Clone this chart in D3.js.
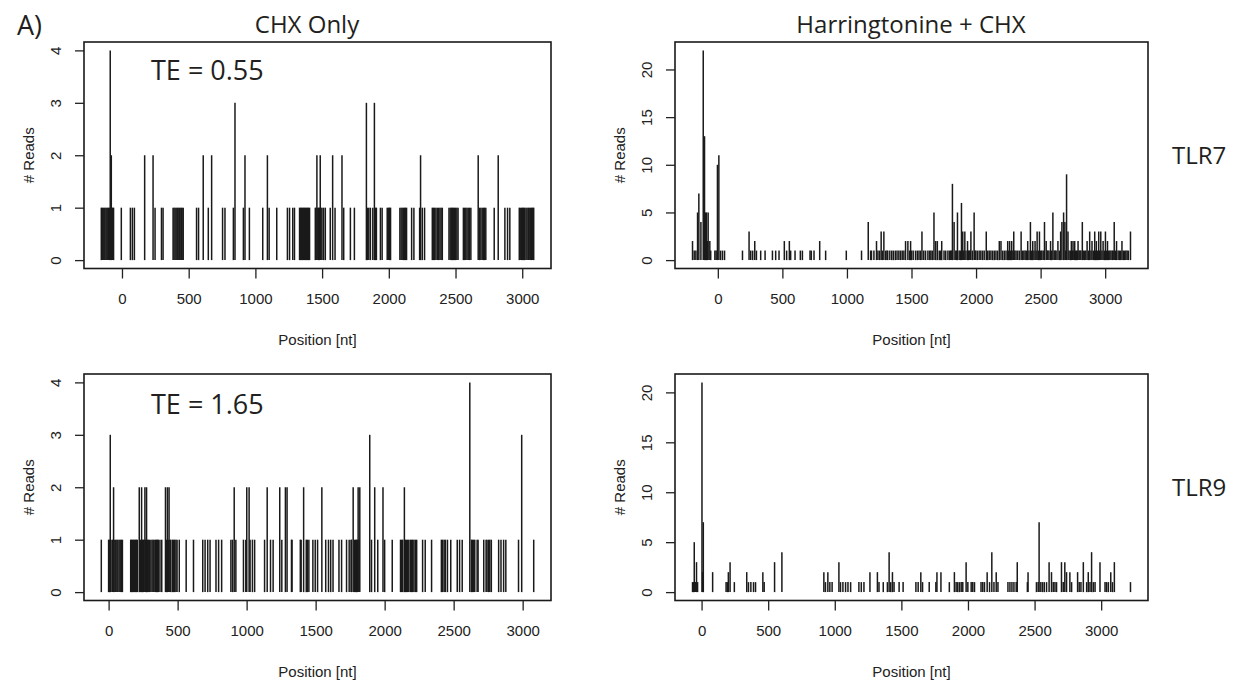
<!DOCTYPE html>
<html><head><meta charset="utf-8">
<script src="https://cdn.jsdelivr.net/npm/d3@7"></script>
<style>
  body { margin: 0; background: #fff; }
  svg { display: block; }
  .tick text { font-family: "Liberation Sans", Arial, sans-serif; font-size: 15px; fill: #222; }
  .tick line { stroke: #222; stroke-width: 1.3; }
</style>
</head><body>
<svg id="fig" width="1243" height="691"></svg>
<script>
// Footprint read counts as [position (nt), reads]

// TLR7, CHX only
const tlr7Chx = [
  [-155,1],[-148,1],[-141,1],[-134,1],[-128,1],[-120,1],[-113,1],[-106,1],[-99,1],[-93,1],
  [-88,4],[-80,2],[-73,1],[-68,1],[-63,1],[-5,1],[63,1],[78,1],[93,1],[170,2],
  [233,2],[248,1],[296,1],[308,1],[383,1],[390,1],[398,1],[406,1],[414,1],[421,1],
  [429,1],[436,1],[444,1],[451,1],[459,1],[559,1],[574,1],[609,2],[647,1],[672,2],
  [754,1],[772,1],[835,1],[847,3],[910,1],[922,2],[955,1],[1055,1],[1090,2],[1103,1],
  [1160,1],[1240,1],[1256,1],[1280,1],[1293,1],[1331,1],[1338,1],[1346,1],[1353,1],[1361,1],
  [1368,1],[1376,1],[1383,1],[1391,1],[1398,1],[1406,1],[1449,1],[1455,1],[1461,2],[1468,1],
  [1474,1],[1480,1],[1486,2],[1492,1],[1499,1],[1511,1],[1524,1],[1561,1],[1579,2],[1597,1],
  [1649,2],[1662,1],[1712,1],[1742,1],[1832,3],[1840,1],[1850,1],[1862,1],[1880,1],[1892,3],
  [1900,1],[1907,1],[1937,1],[1950,1],[1988,1],[1995,1],[2000,1],[2007,1],[2013,1],[2083,1],
  [2092,1],[2100,1],[2109,1],[2118,1],[2125,1],[2133,1],[2171,1],[2188,1],[2231,1],[2238,2],
  [2251,1],[2268,1],[2326,1],[2335,1],[2343,1],[2353,1],[2363,1],[2373,1],[2383,1],[2392,1],
  [2401,1],[2451,1],[2460,1],[2469,1],[2476,1],[2484,1],[2492,1],[2501,1],[2510,1],[2519,1],
  [2559,1],[2568,1],[2577,1],[2586,1],[2595,1],[2605,1],[2615,1],[2670,2],[2680,1],[2690,1],
  [2700,1],[2710,1],[2718,1],[2727,1],[2790,1],[2820,2],[2870,1],[2890,1],[2907,1],[2978,1],
  [2985,1],[2995,1],[3002,1],[3010,1],[3018,1],[3028,1],[3036,1],[3045,1],[3052,1],[3060,1],
  [3068,1],[3075,1],[3080,1],[3086,1]
];

// TLR7, Harringtonine + CHX
const tlr7Harr = [
  [-196,2],[-183,1],[-170,1],[-157,5],[-147,7],[-131,4],[-113,22],[-103,13],[-95,5],[-88,5],
  [-80,2],[-75,5],[-62,2],[-55,1],[-23,1],[-13,1],[-3,10],[8,11],[21,1],[36,1],
  [52,1],[191,1],[242,3],[255,1],[270,1],[286,2],[299,1],[332,1],[366,1],[423,1],
  [448,1],[474,1],[515,2],[533,1],[554,2],[564,1],[598,1],[639,1],[655,1],[714,1],
  [724,1],[745,1],[789,2],[835,1],[995,1],[1113,1],[1165,4],[1183,1],[1190,1],[1209,1],
  [1229,2],[1240,1],[1253,1],[1265,3],[1275,1],[1286,3],[1300,1],[1310,1],[1316,1],[1332,1],
  [1347,1],[1360,1],[1375,1],[1388,1],[1402,1],[1415,1],[1428,1],[1441,1],[1454,2],[1472,2],
  [1485,1],[1493,2],[1500,1],[1513,1],[1531,1],[1545,1],[1558,1],[1570,1],[1581,3],[1595,1],
  [1609,1],[1627,1],[1640,1],[1650,1],[1661,1],[1674,5],[1687,2],[1700,2],[1715,1],[1725,1],
  [1734,2],[1752,1],[1765,1],[1782,1],[1795,1],[1804,1],[1812,1],[1817,8],[1830,4],[1843,1],
  [1850,1],[1856,5],[1869,1],[1878,1],[1887,6],[1897,3],[1905,1],[1913,3],[1922,1],[1934,2],
  [1940,1],[1947,1],[1955,1],[1960,3],[1972,1],[1985,5],[1990,1],[1998,1],[2010,1],[2024,1],
  [2037,1],[2050,1],[2063,1],[2079,3],[2090,1],[2102,1],[2115,1],[2128,1],[2141,1],[2154,1],
  [2167,1],[2180,2],[2193,2],[2206,1],[2219,1],[2232,1],[2245,2],[2250,1],[2260,2],[2268,1],
  [2276,2],[2285,1],[2292,3],[2300,1],[2310,1],[2323,1],[2336,1],[2349,3],[2358,1],[2370,1],
  [2380,1],[2390,1],[2400,2],[2410,1],[2421,4],[2430,1],[2439,2],[2448,1],[2457,2],[2465,1],
  [2473,3],[2482,1],[2491,3],[2500,1],[2509,1],[2520,1],[2530,4],[2543,2],[2550,1],[2556,1],
  [2565,1],[2577,2],[2585,1],[2595,5],[2605,1],[2613,1],[2620,1],[2634,2],[2645,1],[2655,3],
  [2665,4],[2678,5],[2688,4],[2695,1],[2701,9],[2712,3],[2720,1],[2730,1],[2738,2],[2745,1],
  [2751,2],[2758,1],[2764,2],[2770,1],[2777,1],[2784,1],[2790,2],[2798,1],[2805,1],[2812,1],
  [2823,4],[2830,1],[2841,1],[2850,1],[2860,2],[2870,1],[2880,3],[2890,1],[2898,2],[2908,1],
  [2919,3],[2925,1],[2932,2],[2940,1],[2950,3],[2958,1],[2966,3],[2975,1],[2984,2],[2993,1],
  [3002,3],[3010,1],[3018,2],[3027,1],[3036,1],[3045,1],[3055,1],[3062,1],[3070,4],[3080,1],
  [3088,2],[3100,1],[3110,1],[3120,1],[3130,2],[3140,1],[3150,1],[3160,1],[3170,1],[3180,1],
  [3196,3]
];

// TLR9, CHX only
const tlr9Chx = [
  [-53,1],[0,1],[5,1],[12,3],[24,1],[30,1],[36,2],[45,1],[52,1],[60,1],
  [67,1],[76,1],[84,1],[92,1],[100,1],[160,1],[165,1],[172,1],[180,1],[187,1],
  [195,1],[201,1],[208,1],[222,2],[230,1],[239,2],[245,1],[251,1],[257,1],[263,2],
  [269,1],[275,2],[281,1],[287,1],[295,1],[306,1],[315,1],[323,1],[330,1],[340,1],
  [347,1],[354,1],[360,1],[372,1],[385,1],[412,2],[420,1],[426,2],[432,1],[438,2],
  [444,1],[450,1],[462,1],[470,1],[479,1],[488,1],[496,1],[512,1],[562,1],[615,1],
  [682,1],[699,1],[718,1],[735,1],[778,1],[797,1],[819,1],[886,1],[898,1],[910,2],
  [922,1],[977,1],[994,1],[1001,2],[1018,2],[1025,1],[1042,1],[1058,1],[1130,1],[1149,2],
  [1173,1],[1192,1],[1240,2],[1255,1],[1281,2],[1293,2],[1325,1],[1329,1],[1389,1],[1395,1],
  [1413,2],[1432,1],[1440,1],[1451,1],[1480,1],[1497,1],[1514,1],[1545,2],[1573,1],[1593,1],
  [1609,1],[1626,1],[1669,1],[1688,1],[1724,1],[1743,1],[1757,1],[1760,1],[1772,2],[1780,1],
  [1790,1],[1796,1],[1802,1],[1808,2],[1814,1],[1820,2],[1892,3],[1905,1],[1928,2],[1950,1],
  [1988,2],[2000,1],[2055,1],[2115,1],[2122,1],[2131,1],[2143,2],[2150,1],[2158,1],[2167,1],
  [2175,1],[2186,1],[2195,1],[2203,1],[2212,1],[2222,1],[2232,1],[2275,1],[2294,1],[2340,1],
  [2411,1],[2420,1],[2431,1],[2440,1],[2455,1],[2479,1],[2526,1],[2543,1],[2562,1],[2617,4],
  [2629,1],[2635,1],[2645,1],[2653,1],[2670,1],[2677,1],[2718,1],[2735,1],[2742,1],[2754,1],
  [2762,1],[2773,1],[2826,1],[2843,1],[2862,1],[2878,1],[2970,1],[2993,3],[3080,1]
];

// TLR9, Harringtonine + CHX
const tlr9Harr = [
  [-68,1],[-62,1],[-58,1],[-55,5],[-48,1],[-43,1],[-38,3],[-30,1],[3,21],[8,2],
  [13,7],[83,2],[184,1],[194,1],[201,2],[214,3],[246,1],[339,2],[352,1],[370,1],
  [390,1],[405,1],[460,2],[470,1],[548,3],[603,4],[918,2],[930,1],[948,2],[963,1],
  [980,1],[1031,3],[1043,1],[1061,1],[1081,1],[1099,1],[1119,1],[1181,1],[1199,1],[1219,1],
  [1264,2],[1320,2],[1332,1],[1364,1],[1395,1],[1408,4],[1420,1],[1433,2],[1445,1],[1483,1],
  [1513,1],[1609,1],[1626,1],[1646,2],[1659,1],[1709,1],[1759,1],[1767,2],[1797,2],[1860,1],
  [1898,2],[1911,1],[1923,1],[1936,1],[1949,1],[1961,1],[1986,3],[1999,1],[2024,1],[2036,1],
  [2049,1],[2098,1],[2111,1],[2124,1],[2144,2],[2162,1],[2179,4],[2195,1],[2212,2],[2225,1],
  [2300,1],[2315,1],[2330,1],[2345,1],[2362,1],[2370,3],[2446,1],[2451,2],[2514,1],[2527,1],
  [2534,7],[2547,1],[2560,1],[2573,1],[2590,1],[2609,3],[2627,2],[2640,1],[2653,1],[2665,1],
  [2702,3],[2715,1],[2727,3],[2740,2],[2765,2],[2778,1],[2823,2],[2835,1],[2848,1],[2866,3],
  [2891,1],[2903,2],[2916,1],[2928,4],[2941,1],[2954,1],[2991,3],[3029,1],[3041,1],[3054,1],
  [3072,2],[3085,1],[3099,3],[3220,1]
];

const xTickValues = [0, 500, 1000, 1500, 2000, 2500, 3000];
const lowCountTicks = [0, 1, 2, 3, 4];
const highCountTicks = [0, 5, 10, 15, 20];

const svg = d3.select("#fig");
svg.append("rect").attr("width", 1243).attr("height", 691).attr("fill", "#fff");

const INK = "#1a1a1a";

// One histogram-style panel (vertical lines from zero, R type="h" look)
function drawPanel(box, counts, yTicks) {
  const g = svg.append("g");
  // R default axis extension: 4% on each side
  const [xmin, xmax] = d3.extent(counts, d => d[0]);
  const px = (xmax - xmin) * 0.04;
  const ymax = d3.max(counts, d => d[1]);
  const x = d3.scaleLinear().domain([xmin - px, xmax + px]).range([box.x0, box.x1]);
  const y = d3.scaleLinear().domain([-0.04 * ymax, 1.04 * ymax]).range([box.y1, box.y0]);

  g.append("g").selectAll("line")
    .data(counts)
    .join("line")
    .attr("x1", d => x(d[0])).attr("x2", d => x(d[0]))
    .attr("y1", y(0)).attr("y2", d => y(d[1]))
    .attr("stroke", INK).attr("stroke-width", 1.5);

  g.append("rect")
    .attr("x", box.x0).attr("y", box.y0)
    .attr("width", box.x1 - box.x0).attr("height", box.y1 - box.y0)
    .attr("fill", "none").attr("stroke", INK).attr("stroke-width", 1.6);

  const xa = g.append("g").attr("transform", `translate(0,${box.y1})`)
    .call(d3.axisBottom(x).tickValues(xTickValues).tickSize(10).tickPadding(15).tickFormat(d3.format("d")));
  xa.select(".domain").remove();

  const ya = g.append("g").attr("transform", `translate(${box.x0},0)`)
    .call(d3.axisLeft(y).tickValues(yTicks).tickSize(9).tickFormat(d3.format("d")));
  ya.select(".domain").remove();
  ya.selectAll(".tick text")
    .attr("x", null).attr("dy", "0.35em")
    .attr("text-anchor", "middle")
    .attr("transform", "translate(-28,0) rotate(-90)");

  g.append("text")
    .attr("x", (box.x0 + box.x1) / 2).attr("y", box.y1 + 71)
    .attr("dy", "0.35em").attr("text-anchor", "middle")
    .style("font-family", "Liberation Sans, Arial, sans-serif").style("font-size", "15px").attr("fill", "#222")
    .text("Position [nt]");

  g.append("text")
    .attr("transform", `translate(${box.x0 - 55},${(box.y0 + box.y1) / 2}) rotate(-90)`)
    .attr("dy", "0.35em").attr("text-anchor", "middle")
    .style("font-family", "Liberation Sans, Arial, sans-serif").style("font-size", "15px").attr("fill", "#222")
    .text("# Reads");
}

const leftX = [84, 551], rightX = [675, 1148];
const topY = [42, 268.5], botY = [374, 600.5];

drawPanel({ x0: leftX[0], x1: leftX[1], y0: topY[0], y1: topY[1] }, tlr7Chx, lowCountTicks);
drawPanel({ x0: rightX[0], x1: rightX[1], y0: topY[0], y1: topY[1] }, tlr7Harr, highCountTicks);
drawPanel({ x0: leftX[0], x1: leftX[1], y0: botY[0], y1: botY[1] }, tlr9Chx, lowCountTicks);
drawPanel({ x0: rightX[0], x1: rightX[1], y0: botY[0], y1: botY[1] }, tlr9Harr, highCountTicks);

// Figure-level labels
const label = (x, y, txt, size, anchor) => svg.append("text")
  .attr("x", x).attr("y", y).attr("text-anchor", anchor || "start")
  .style("font-family", "Open Sans, Noto Sans, sans-serif").style("font-size", size + "px")
  .attr("fill", "#231f20").text(txt);

label(17, 35, "A)", 27);
label(307, 33, "CHX Only", 24, "middle");
label(911, 33, "Harringtonine + CHX", 24, "middle");
label(151, 80, "TE = 0.55", 27);
label(151, 414, "TE = 1.65", 27);
label(1172, 164, "TLR7", 24);
label(1172, 496, "TLR9", 24);
</script>
</body></html>
